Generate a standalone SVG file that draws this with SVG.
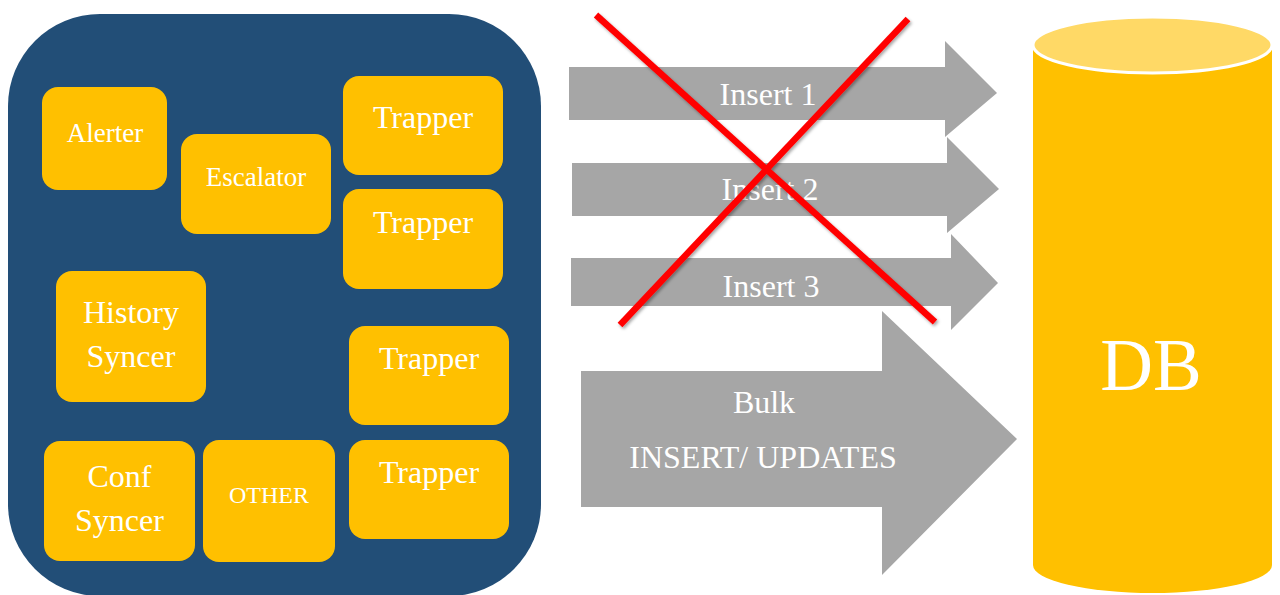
<svg xmlns="http://www.w3.org/2000/svg" width="1280" height="595" viewBox="0 0 1280 595">
  <defs>
    <style>
      .box { fill: #FFC000; }
      .lbl { font-family: "Liberation Serif", "Times New Roman", serif; fill: #FFFFFF; text-anchor: middle; }
      .big { font-size: 32px; }
      .mid { font-size: 27px; }
      .sm { font-size: 24px; }
      .arrow { fill: #A6A6A6; }
      .cross { stroke: #FF0000; stroke-width: 6.5; stroke-linecap: butt; }
    </style>
    <filter id="shadow" x="-10%" y="-10%" width="120%" height="120%">
      <feDropShadow dx="1.5" dy="2" stdDeviation="1.5" flood-color="#000000" flood-opacity="0.35"/>
    </filter>
  </defs>

  <rect width="1280" height="595" fill="#FFFFFF"/>

  <!-- server process container -->
  <g id="server">
    <rect x="8" y="14" width="533" height="582" rx="92" ry="92" fill="#224E77"/>
  </g>

  <g id="alerter">
    <rect class="box" x="42" y="87" width="125" height="103" rx="16"/>
    <text class="lbl mid" x="105" y="142">Alerter</text>
  </g>
  <g id="escalator">
    <rect class="box" x="181" y="134" width="150" height="100" rx="16"/>
    <text class="lbl mid" x="256" y="186">Escalator</text>
  </g>
  <g id="trapper1">
    <rect class="box" x="343" y="76" width="160" height="99" rx="16"/>
    <text class="lbl big" x="423" y="128">Trapper</text>
  </g>
  <g id="trapper2">
    <rect class="box" x="343" y="189" width="160" height="100" rx="16"/>
    <text class="lbl big" x="423" y="233">Trapper</text>
  </g>
  <g id="history-syncer">
    <rect class="box" x="56" y="271" width="150" height="131" rx="16"/>
    <text class="lbl big" x="131" y="323">History</text>
    <text class="lbl big" x="131" y="367">Syncer</text>
  </g>
  <g id="trapper3">
    <rect class="box" x="349" y="326" width="160" height="99" rx="16"/>
    <text class="lbl big" x="429" y="369">Trapper</text>
  </g>
  <g id="trapper4">
    <rect class="box" x="349" y="440" width="160" height="99" rx="16"/>
    <text class="lbl big" x="429" y="483">Trapper</text>
  </g>
  <g id="conf-syncer">
    <rect class="box" x="44" y="441" width="151" height="120" rx="16"/>
    <text class="lbl big" x="119.5" y="487">Conf</text>
    <text class="lbl big" x="119.5" y="531">Syncer</text>
  </g>
  <g id="other">
    <rect class="box" x="203" y="440" width="132" height="122" rx="16"/>
    <text class="lbl sm" x="269" y="503">OTHER</text>
  </g>

  <!-- database cylinder -->
  <g id="db">
    <path d="M1033,45 L1033,565 A119.5,28 0 0 0 1272,565 L1272,45 Z" fill="#FFC000"/>
    <ellipse cx="1152.5" cy="45" rx="119.5" ry="28" fill="#FFD966" stroke="#FFFFFF" stroke-width="3"/>
    <text class="lbl" x="1151" y="390" font-size="73">DB</text>
  </g>

  <!-- connectors: block arrows towards the database -->
  <g id="connectors">
    <g id="insert1">
      <polygon class="arrow" points="569,67 945,67 945,41 997,93 945,137 945,120 569,120"/>
      <text class="lbl big" x="768" y="105">Insert 1</text>
    </g>
    <g id="insert2">
      <polygon class="arrow" points="572,163 947,163 947,137 999,189 947,233 947,216 572,216"/>
      <text class="lbl big" x="770" y="200">Insert 2</text>
    </g>
    <g id="insert3">
      <polygon class="arrow" points="571,258 951,258 951,234 998,283 951,330 951,306 571,306"/>
      <text class="lbl big" x="771" y="297">Insert 3</text>
    </g>
    <g id="bulk">
      <polygon class="arrow" points="581,371 882,371 882,311 1017,439 882,575 882,507 581,507"/>
      <text class="lbl big" x="764" y="413">Bulk</text>
      <text class="lbl big" x="763" y="468">INSERT/ UPDATES</text>
    </g>
    <!-- strike-through over the single-row inserts -->
    <g id="cross" filter="url(#shadow)">
      <line class="cross" x1="596" y1="15" x2="935" y2="322"/>
      <line class="cross" x1="908" y1="19" x2="620" y2="325"/>
    </g>
  </g>
</svg>
